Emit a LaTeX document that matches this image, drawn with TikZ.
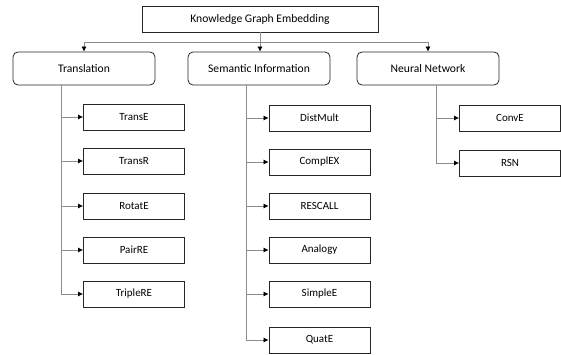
\documentclass[tikz,border=0pt]{standalone}
\usepackage{fontspec}
\setmainfont{Carlito}
\usepackage{tikz}
\usetikzlibrary{
	calc,
	arrows.meta
}

\begin{document}
\begin{tikzpicture}[
	x=1pt, y=-1pt,
	>={Latex[length=5pt,width=5pt,color=black]},
	font=\fontsize{11.6}{13}\selectfont,
	rootbox/.style={draw=black!85, line width=0.8pt, minimum width=236pt, minimum height=26pt, inner sep=0},
	catbox/.style={draw=black!85, line width=0.8pt, rounded corners=5pt, minimum width=142pt, minimum height=33pt, inner sep=0},
	leafbox/.style={draw=black!85, line width=0.8pt, minimum width=101pt, minimum height=26pt, inner sep=0, font=\fontsize{11}{12}\selectfont},
	conn/.style={draw=black!45, line width=0.7pt, ->}
]
	\useasboundingbox[fill=white] (0,0) rectangle (561,354);

	% top
	\node(root)[rootbox] at (260,19) {Knowledge Graph Embedding};

	% categories
	\node(trans)[catbox] at (84,68.5) {Translation};
	\node(sem)[catbox] at (259,68.5) {Semantic Information};
	\node(neural)[catbox] at (428,68.5) {Neural Network};

	\coordinate (hub) at ($(root.south) + (0,10)$);

	\draw[conn] (root.south) -- (hub) -| (trans.north);
	\draw[conn] (hub) -| (neural.north);
	\draw[conn] (hub) -- (hub |- sem.north);

	% translation models
	\node(transe)[leafbox] at (134,117) {TransE};
	\node(transr)[leafbox] at (134,161) {TransR};
	\node(rotate)[leafbox] at (134,206) {RotatE};
	\node(pairre)[leafbox] at (134,250) {PairRE};
	\node(triplere)[leafbox] at (134,294) {TripleRE};

	\coordinate (tstem) at ($(trans.south west) + (49,0)$);

	\draw[conn] (tstem) |- (transe.west);
	\draw[conn] (tstem) |- (transr.west);
	\draw[conn] (tstem) |- (rotate.west);
	\draw[conn] (tstem) |- (pairre.west);
	\draw[conn] (tstem) |- (triplere.west);

	% semantic models
	\node(distmult)[leafbox] at (319.5,118) {DistMult};
	\node(complex)[leafbox] at (319.5,162) {ComplEX};
	\node(rescall)[leafbox] at (319.5,206) {RESCALL};
	\node(analogy)[leafbox] at (319.5,250) {Analogy};
	\node(simplee)[leafbox] at (319.5,294) {SimpleE};
	\node(quate)[leafbox] at (319.5,340) {QuatE};

	\coordinate (sstem) at ($(sem.south west) + (59,0)$);

	\draw[conn] (sstem) |- (distmult.west);
	\draw[conn] (sstem) |- (complex.west);
	\draw[conn] (sstem) |- (rescall.west);
	\draw[conn] (sstem) |- (analogy.west);
	\draw[conn] (sstem) |- (simplee.west);
	\draw[conn] (sstem) |- (quate.west);

	% neural models
	\node(conve)[leafbox] at (510,118) {ConvE};
	\node(rsn)[leafbox] at (510,163) {RSN};

	\coordinate (nstem) at ($(neural.south west) + (80,0)$);

	\draw[conn] (nstem) |- (conve.west);
	\draw[conn] (nstem) |- (rsn.west);
\end{tikzpicture}
\end{document}
